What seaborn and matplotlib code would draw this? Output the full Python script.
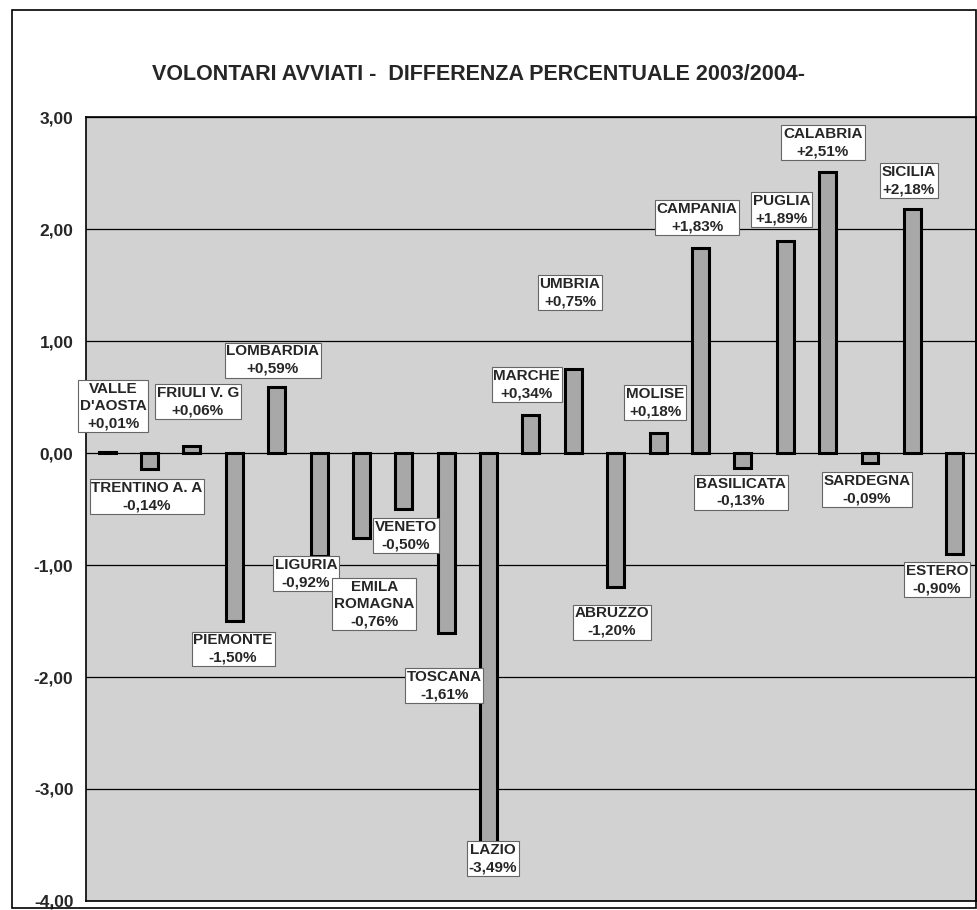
import numpy as np
import matplotlib
matplotlib.use("Agg")
import matplotlib.pyplot as plt
import pandas as pd
import seaborn as sns

# data
regioni = ["VALLE\nD'AOSTA", "TRENTINO A. A", "FRIULI V. G", "PIEMONTE", "LOMBARDIA",
           "LIGURIA", "EMILA\nROMAGNA", "VENETO", "TOSCANA", "LAZIO", "MARCHE",
           "UMBRIA", "ABRUZZO", "MOLISE", "CAMPANIA", "BASILICATA", "PUGLIA",
           "CALABRIA", "SARDEGNA", "SICILIA", "ESTERO"]
valori = [0.01, -0.14, 0.06, -1.50, 0.59, -0.92, -0.76, -0.50, -1.61, -3.49, 0.34,
          0.75, -1.20, 0.18, 1.83, -0.13, 1.89, 2.51, -0.09, 2.18, -0.90]
yticks = [3, 2, 1, 0, -1, -2, -3, -4]

# where each label box sits (category position, value position)
label_x = [0.14, 0.94, 2.14, 2.97, 3.91, 4.69, 6.3, 7.05, 7.95, 9.1, 9.9,
           10.92, 11.91, 12.93, 13.92, 14.95, 15.92, 16.89, 17.93, 18.92, 19.58]
label_y = [0.42, -0.39, 0.46, -1.75, 0.83, -1.08, -1.35, -0.74, -2.08, -3.62, 0.61,
           1.43, -1.51, 0.45, 2.10, -0.35, 2.17, 2.77, -0.33, 2.43, -1.13]

sns.set_style("white")
plt.rcParams['font.family'] = ['Liberation Sans', 'DejaVu Sans']

df = pd.DataFrame({"regione": [r.replace("\n", " ") for r in regioni], "diff": valori})

fig = plt.figure(figsize=(9.78, 9.10), dpi=100)
ax = fig.add_axes([0.0879, 0.0099, 0.910, 0.8615])
ax.set_facecolor("#d2d2d2")

sns.barplot(data=df, x="regione", y="diff", color="#a8a8a8", width=0.4,
            edgecolor="black", linewidth=2.2, saturation=1, ax=ax, zorder=3)

ax.set_ylim(-4, 3)
ax.set_xlim(-0.5, len(regioni) - 0.5)
ax.set_yticks(yticks)
ax.set_yticklabels([f"{t:.2f}".replace(".", ",") for t in yticks],
                   fontsize=12.5, fontweight="bold")
ax.set_xticks([])
ax.set_xlabel("")
ax.set_ylabel("")
ax.yaxis.grid(True, color="black", linewidth=0.9, zorder=1)
ax.set_axisbelow(True)
ax.tick_params(axis="y", direction="out", length=5, width=1, color="black", pad=4)
for s in ax.spines.values():
    s.set_color("black")
    s.set_linewidth(1.2)

for name, v, lx, ly in zip(regioni, valori, label_x, label_y):
    num = f"{v:+.2f}%".replace(".", ",")
    ax.text(lx, ly, f"{name}\n{num}", ha="center", va="center", fontsize=11,
            fontweight="bold", linespacing=1.3, zorder=5,
            bbox=dict(boxstyle="square,pad=0.12", facecolor="white",
                      edgecolor="#666666", linewidth=0.8))

fig.text(0.489, 0.918, "VOLONTARI AVVIATI -  DIFFERENZA PERCENTUALE 2003/2004-",
         ha="center", va="center", fontsize=15.5, fontweight="bold",
         family=['Liberation Sans Narrow', 'Liberation Sans', 'DejaVu Sans'])

# outer page frame
fig.patches.append(plt.Rectangle((0.012, 0.002), 0.986, 0.987, transform=fig.transFigure,
                                 fill=False, edgecolor="black", linewidth=1.2))

fig.savefig("out.png", dpi=100)
